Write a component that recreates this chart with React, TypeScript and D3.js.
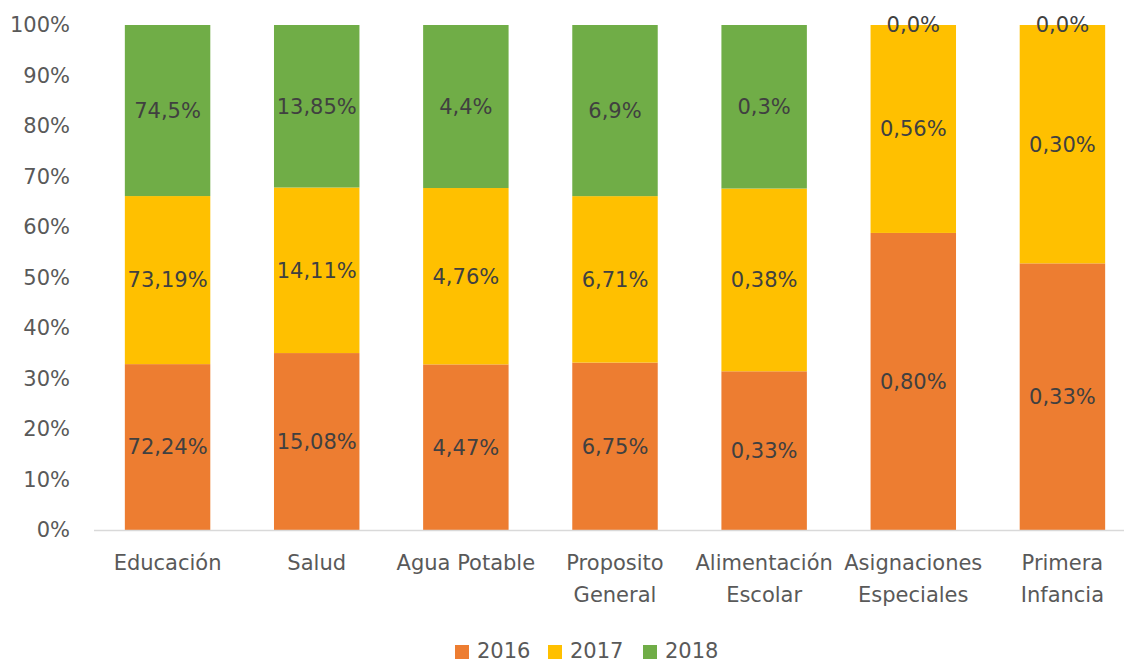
import React from 'react';
import * as d3 from 'd3';

const categories = [
  ['Educación'],
  ['Salud'],
  ['Agua Potable'],
  ['Proposito', 'General'],
  ['Alimentación', 'Escolar'],
  ['Asignaciones', 'Especiales'],
  ['Primera', 'Infancia'],
];
const years = ['2016', '2017', '2018'];
const values2016 = [72.24, 15.08, 4.47, 6.75, 0.33, 0.8, 0.33];
const values2017 = [73.19, 14.11, 4.76, 6.71, 0.38, 0.56, 0.295];
const values2018 = [74.5, 13.85, 4.4, 6.9, 0.34, 0, 0];
const labels2016 = ['72,24%', '15,08%', '4,47%', '6,75%', '0,33%', '0,80%', '0,33%'];
const labels2017 = ['73,19%', '14,11%', '4,76%', '6,71%', '0,38%', '0,56%', '0,30%'];
const labels2018 = ['74,5%', '13,85%', '4,4%', '6,9%', '0,3%', '0,0%', '0,0%'];
const yTicks = [0, 0.1, 0.2, 0.3, 0.4, 0.5, 0.6, 0.7, 0.8, 0.9, 1];
const colors = ['#ED7D31', '#FFC000', '#70AD47'];

const W = 1124;
const H = 662;
const FONT = '"DejaVu Sans", sans-serif';

export default function App() {
  const series = [values2016, values2017, values2018];
  const labels = [labels2016, labels2017, labels2018];

  const x = d3.scaleBand<number>()
    .domain(d3.range(categories.length))
    .range([93, 1137])
    .paddingInner(0.427)
    .paddingOuter(0.2135);
  const y = d3.scaleLinear().domain([0, 1]).range([530, 25]);

  // normalise each category to 100%
  const rows = categories.map((_, i) => {
    const total = d3.sum(series, s => s[i]);
    let acc = 0;
    return series.map((s, k) => {
      const y0 = acc;
      acc += s[i] / total;
      return { y0, y1: acc, label: labels[k][i], k };
    });
  });

  const legendX = [455, 548, 643];

  return (
    <div style={{ position: 'fixed', left: 0, top: 0 }}>
      <svg width={W} height={H} style={{ display: 'block', background: '#fff' }}>
        {/* y axis labels */}
        {yTicks.map(t => (
          <text key={t} x={70} y={y(t)} dy="0.35em" textAnchor="end"
            fontFamily={FONT} fontSize={21} fill="#595959">
            {d3.format('.0%')(t)}
          </text>
        ))}

        {/* bars */}
        {rows.map((segs, i) => (
          <g key={i}>
            {segs.map(s => (
              <rect key={s.k} x={x(i)} width={x.bandwidth()}
                y={y(s.y1)} height={y(s.y0) - y(s.y1)} fill={colors[s.k]} />
            ))}
            {segs.map(s => (
              <text key={'t' + s.k} x={(x(i) ?? 0) + x.bandwidth() / 2}
                y={y((s.y0 + s.y1) / 2)} dy="0.35em" textAnchor="middle"
                fontFamily={FONT} fontSize={21} fill="#404040">
                {s.label}
              </text>
            ))}
          </g>
        ))}

        {/* x axis line */}
        <line x1={94} x2={W} y1={y(0) + 0.5} y2={y(0) + 0.5} stroke="#D9D9D9" strokeWidth={1.5} />

        {/* category labels */}
        {categories.map((lines, i) => (
          <text key={i} x={(x(i) ?? 0) + x.bandwidth() / 2} y={563} textAnchor="middle"
            fontFamily={FONT} fontSize={21} fill="#595959">
            {lines.map((l, j) => (
              <tspan key={j} x={(x(i) ?? 0) + x.bandwidth() / 2} dy={j === 0 ? '0.35em' : 32}>{l}</tspan>
            ))}
          </text>
        ))}

        {/* legend */}
        {years.map((yr, k) => (
          <g key={yr}>
            <rect x={legendX[k]} y={645} width={14} height={14} fill={colors[k]} />
            <text x={legendX[k] + 22} y={651} dy="0.35em" fontFamily={FONT} fontSize={21} fill="#595959">
              {yr}
            </text>
          </g>
        ))}
      </svg>
    </div>
  );
}
